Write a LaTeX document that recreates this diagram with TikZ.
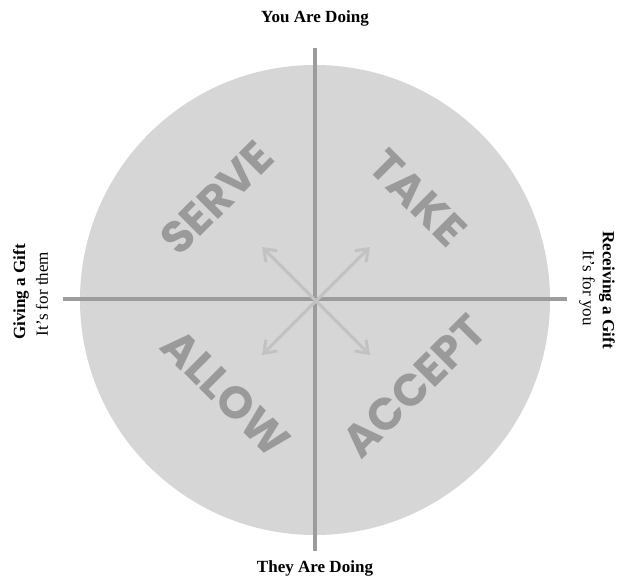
\documentclass[tikz,border=0pt]{standalone}
\usepackage{fontspec}
\setmainfont{Liberation Serif}
\newfontfamily\wordfont{Poppins}
\usetikzlibrary{arrows.meta,positioning}
\definecolor{disc}{HTML}{D6D6D6}
\definecolor{axis}{HTML}{9C9C9C}
\definecolor{word}{HTML}{9A9A9A}
\definecolor{ray}{HTML}{C2C2C2}

\begin{document}
\begin{tikzpicture}[
    x=0.02cm, y=-0.02cm,
    axisline/.style={draw=axis, line width=4*0.02cm},
    ray/.style={draw=ray, line width=3*0.02cm, {Straight Barb[length=2.2mm,width=3.2mm]}-{Straight Barb[length=2.2mm,width=3.2mm]}},
    quad/.style={font=\wordfont\bfseries\fontsize{25.5}{26}\selectfont, text=word, inner sep=0pt},
    head/.style={font=\bfseries\fontsize{9.7}{11}\selectfont, inner sep=0pt},
    sub/.style={font=\fontsize{9.7}{11}\selectfont, inner sep=0pt}
  ]
    \useasboundingbox (0,0) rectangle (627,578);
    \fill[disc] (315,300) circle (235);

    % axes
    \coordinate (top) at (315,48);
    \coordinate (bot) at (315,551);
    \coordinate (lft) at (63,299);
    \coordinate (rgt) at (567,299);
    \draw[axisline] (top) -- (bot);
    \draw[axisline] (lft) -- (rgt);

    % diagonal arrows
    \coordinate (nw) at (262,247);
    \coordinate (ne) at (370,247);
    \coordinate (sw) at (262,355);
    \coordinate (se) at (370,355);
    \draw[ray] (nw) -- (se);
    \draw[ray] (ne) -- (sw);

    % quadrant words
    \node[quad, rotate=45] (serve) at (217,198) {SERVE};
    \node[quad, rotate=-45] (take) at (418,198) {TAKE};
    \node[quad, rotate=-45] (allow) at (226,393) {ALLOW};
    \node[quad, rotate=45] (accept) at (414,386) {ACCEPT};

    % outer labels
    \node[head] (doing) at (315,18) {You Are Doing};
    \node[head] (theydo) at (315,568) {They Are Doing};
    \node[head, rotate=90] (give) at (21,292) {Giving a Gift};
    \node[sub, rotate=90] (them) at (42,294) {It's for them};
    \node[head, rotate=-90] (recv) at (607,290) {Receiving a Gift};
    \node[sub, rotate=-90] (you) at (587,288) {It's for you};
  \end{tikzpicture}
\end{document}
